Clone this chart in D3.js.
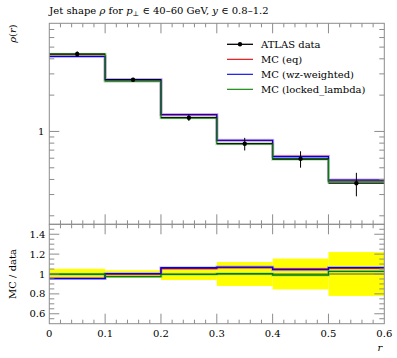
<!DOCTYPE html>
<html><head><meta charset="utf-8">
<script src="https://cdn.jsdelivr.net/npm/d3@7"></script>
<style>body{margin:0;background:#fff}svg{display:block}</style>
</head><body><svg id="c" width="397" height="358" font-family="'DejaVu Serif', 'Liberation Serif', serif"></svg>
<script>
const binEdges = [0, 0.1, 0.2, 0.3, 0.4, 0.5, 0.6];
const dataVals = [4.38, 2.68, 1.30, 0.79, 0.593, 0.372];
const dataErr = [0.23, 0.10, 0.078, 0.095, 0.092, 0.082];
const mcEq = [4.19, 2.68, 1.372, 0.841, 0.623, 0.394];
const mcWz = [4.18, 2.69, 1.382, 0.845, 0.619, 0.396];
const mcLocked = [4.37, 2.61, 1.296, 0.792, 0.587, 0.382];
const xTickLabels = ["0", "0.1", "0.2", "0.3", "0.4", "0.5", "0.6"];
const ratioTickLabels = ["0.6", "0.8", "1", "1.2", "1.4"];
const legendLabels = ["ATLAS data", "MC (eq)", "MC (wz-weighted)", "MC (locked_lambda)"];

const svg = d3.select("#c");
const L = 49.3, R = 384.3, T = 23.3, MB = 224.3, RB = 323.7;
const frame = "#8c8c8c";
const x = d3.scaleLinear().domain([0, 0.6]).range([L, R]);
const y = d3.scaleLog().domain([0.170, 7.876]).range([MB, T]);
const yr = d3.scaleLinear().domain([0.5, 1.5]).range([RB, MB]);

const series = [
  {vals: mcEq, color: "#e00000", halo: "#ff9090"},
  {vals: mcWz, color: "#0000e6", halo: "#9090ff"},
  {vals: mcLocked, color: "#008000", halo: "#80c080"}
];
function stepPts(vals){ const p = vals.map((v,i)=>[binEdges[i], v]); p.push([binEdges[binEdges.length-1], vals[vals.length-1]]); return p; }

const defs = svg.append("defs");
defs.append("clipPath").attr("id","cm").append("rect").attr("x",L).attr("y",T).attr("width",R-L).attr("height",MB-T);
defs.append("clipPath").attr("id","cr").append("rect").attr("x",L).attr("y",MB).attr("width",R-L).attr("height",RB-MB);

// ---------- main panel ----------
const gm = svg.append("g").attr("clip-path","url(#cm)");
const lineM = d3.line().x(d=>x(d[0])).y(d=>y(d[1])).curve(d3.curveStepAfter);
series.forEach(s=>{
  gm.append("path").attr("d", lineM(stepPts(s.vals))).attr("fill","none").attr("stroke",s.halo).attr("stroke-opacity",0.5).attr("stroke-width",3);
});
series.forEach(s=>{
  gm.append("path").attr("d", lineM(stepPts(s.vals))).attr("fill","none").attr("stroke",s.color).attr("stroke-width",1.1);
});
dataVals.forEach((v,i)=>{
  const xc = x((binEdges[i]+binEdges[i+1])/2);
  gm.append("line").attr("x1",x(binEdges[i])).attr("x2",x(binEdges[i+1])).attr("y1",y(v)).attr("y2",y(v)).attr("stroke","#000").attr("stroke-width",1);
  gm.append("line").attr("x1",xc).attr("x2",xc).attr("y1",y(v-dataErr[i])).attr("y2",y(v+dataErr[i])).attr("stroke","#000").attr("stroke-width",1);
  gm.append("circle").attr("cx",xc).attr("cy",y(v)).attr("r",2.2).attr("fill","#000");
});

// ---------- ratio panel ----------
const gr = svg.append("g").attr("clip-path","url(#cr)");
dataVals.forEach((v,i)=>{
  const rel = dataErr[i]/v;
  gr.append("rect").attr("x",x(binEdges[i])).attr("width",x(binEdges[i+1])-x(binEdges[i]))
    .attr("y",yr(1+rel)).attr("height",yr(1-rel)-yr(1+rel)).attr("fill","#ffff00");
});
const lineR = d3.line().x(d=>x(d[0])).y(d=>yr(d[1])).curve(d3.curveStepAfter);
gr.append("line").attr("x1",L).attr("x2",R).attr("y1",yr(1)).attr("y2",yr(1)).attr("stroke","#555").attr("stroke-width",1);
series.forEach(s=>{
  const rat = s.vals.map((v,i)=>v/dataVals[i]);
  gr.append("path").attr("d", lineR(stepPts(rat))).attr("fill","none").attr("stroke",s.halo).attr("stroke-opacity",0.5).attr("stroke-width",3);
});
series.forEach(s=>{
  const rat = s.vals.map((v,i)=>v/dataVals[i]);
  gr.append("path").attr("d", lineR(stepPts(rat))).attr("fill","none").attr("stroke",s.color).attr("stroke-width",1.3);
});

// ---------- frames and ticks ----------
const ax = svg.append("g").attr("stroke",frame).attr("stroke-width",1).attr("fill","none");
ax.append("rect").attr("x",L).attr("y",T).attr("width",R-L).attr("height",MB-T);
ax.append("rect").attr("x",L).attr("y",MB).attr("width",R-L).attr("height",RB-MB);
function vtick(xv, y0, len){ ax.append("line").attr("x1",x(xv)).attr("x2",x(xv)).attr("y1",y0).attr("y2",y0+len); }
function htick(yp, len){ ax.append("line").attr("x1",L).attr("x2",L+len).attr("y1",yp).attr("y2",yp); ax.append("line").attr("x1",R).attr("x2",R-len).attr("y1",yp).attr("y2",yp); }
const xMinor = d3.range(0, 61, 2).map(v=>v/100);
xMinor.forEach(v=>{
  const major = Math.abs(v*10 - Math.round(v*10)) < 1e-6;
  const len = major ? 10 : 4;
  if (v<=0 || v>=0.6) return;
  vtick(v, T, len); vtick(v, MB, -len); vtick(v, MB, len); vtick(v, RB, -len);
});
const yMinorVals = [0.2,0.3,0.4,0.5,0.6,0.7,0.8,0.9,2,3,4,5,6,7];
yMinorVals.forEach(v=>htick(y(v),5));
htick(y(1),10);
d3.range(0.55, 1.5, 0.05).forEach(v=>{
  const major = Math.abs(v*5 - Math.round(v*5)) < 1e-6;
  htick(yr(v), major ? 10 : 5);
});

// ---------- text ----------
const fs = 10;
svg.append("text").attr("x",L).attr("y",14).attr("font-size",fs).html(
 'Jet shape <tspan font-style="italic">ρ</tspan> for <tspan font-style="italic">p</tspan><tspan font-size="7" dy="2">⊥</tspan><tspan dy="-2"> ∈ 40–60 GeV, </tspan><tspan font-style="italic">y</tspan> ∈ 0.8–1.2');
svg.append("text").attr("x",L-5).attr("y",y(1)+4).attr("text-anchor","end").attr("font-size",fs).text("1");
xTickLabels.forEach((t,i)=>{
  svg.append("text").attr("x",x(binEdges[i])).attr("y",337).attr("text-anchor","middle").attr("font-size",fs).text(t);
});
ratioTickLabels.forEach(t=>{
  svg.append("text").attr("x",L-4).attr("y",yr(+t)+3.5).attr("text-anchor","end").attr("font-size",fs).text(t);
});
svg.append("text").attr("transform",`translate(16,${T+1}) rotate(-90)`).attr("text-anchor","end").attr("font-size",fs).html('<tspan font-style="italic">ρ</tspan>(<tspan font-style="italic">r</tspan>)');
svg.append("text").attr("transform",`translate(16,${yr(1)}) rotate(-90)`).attr("text-anchor","middle").attr("font-size",fs).text("MC / data");
svg.append("text").attr("x",R-2).attr("y",351).attr("text-anchor","end").attr("font-size",fs).attr("font-style","italic").text("r");

// ---------- legend ----------
const legColors = ["#000", "#e00000", "#0000e6", "#008000"];
legendLabels.forEach((t,i)=>{
  const ly = 44.3 + i*15;
  svg.append("line").attr("x1",227).attr("x2",253).attr("y1",ly).attr("y2",ly).attr("stroke",legColors[i]).attr("stroke-width",i===0?1.3:1.1);
  if (i===0) svg.append("circle").attr("cx",240).attr("cy",ly).attr("r",2.2).attr("fill","#000");
  svg.append("text").attr("x",261).attr("y",ly+3.8).attr("font-size",fs).text(t);
});
</script></body></html>
